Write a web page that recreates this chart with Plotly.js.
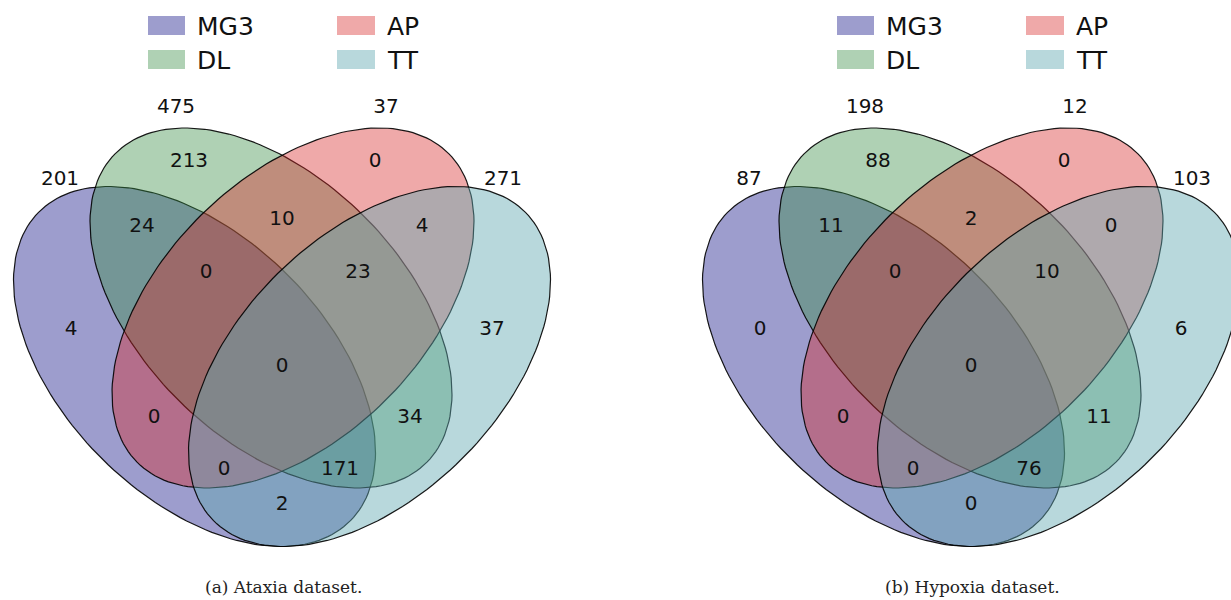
<!DOCTYPE html>
<html>
<head>
<meta charset="utf-8">
<script src="https://cdn.plot.ly/plotly-3.0.1.min.js"></script>
<style>html,body{margin:0;padding:0;background:#fff;}#chart{width:1231px;height:600px;}</style>
</head>
<body>
<div id="chart"></div>
<script>
// ---------------- data ----------------
const setNames = ['MG3', 'DL', 'AP', 'TT'];
const regionKeys = ['1000','0100','0010','0001','1100','0110','0011','1010','0101','1001','1110','0111','1011','1101','1111'];
const ataxiaCounts  = [4, 213, 0, 37, 24, 10, 4, 0, 34, 2, 0, 23, 0, 171, 0];
const hypoxiaCounts = [0, 88, 0, 6, 11, 2, 0, 0, 11, 0, 0, 10, 0, 76, 0];
const ataxiaTotals  = [201, 475, 37, 271];
const hypoxiaTotals = [87, 198, 12, 103];
const captions = ['(a) Ataxia dataset.', '(b) Hypoxia dataset.'];

// ---------------- style / layout (panel-local pixel units) ----------------
const fillColors = ['rgba(10,10,130,0.4)', 'rgba(55,140,68,0.4)', 'rgba(214,39,40,0.4)', 'rgba(97,168,177,0.45)'];
const ellipses = [ // cx, cy, semi-major, semi-minor, angle(deg, screen coords)
  [194.5, 366.5, 219.3, 130.7, 44.67],
  [271.0, 308.0, 219.3, 130.7, 44.67],
  [293.0, 308.0, 219.3, 130.7, 135.33],
  [369.5, 366.5, 219.3, 130.7, 135.33]
];
const regionPos = {
  '1000': [71, 330], '0100': [189, 162], '0010': [375, 162], '0001': [492, 330],
  '1100': [142, 227], '0110': [282, 220], '0011': [422, 227],
  '1010': [154, 418], '0101': [410, 418], '1001': [282, 505],
  '1110': [206, 273], '0111': [358, 273], '1011': [224, 470], '1101': [340, 470],
  '1111': [282, 367]
};
const totalPos = [[60, 180], [176, 108], [386, 108], [503, 180]];
const legendSw = [[148, 185, 16, 35], [148, 185, 50, 69], [337, 375, 16, 35], [337, 375, 50, 69]];
const legendTxt = [[195, 26], [195, 60], [385, 26], [385, 60]];
const captionPos = [283, 587];
const FONT = 'DejaVu Sans, Verdana, sans-serif';

function ellipsePath(e) {
  const [cx, cy, a, b, ang] = e;
  const th = ang * Math.PI / 180, xs = [], ys = [];
  for (let i = 0; i <= 360; i += 2) {
    const t = i * Math.PI / 180;
    xs.push(cx + a * Math.cos(t) * Math.cos(th) - b * Math.sin(t) * Math.sin(th));
    ys.push(cy + a * Math.cos(t) * Math.sin(th) + b * Math.sin(t) * Math.cos(th));
  }
  return [xs, ys];
}

const traces = [], shapes = [], annotations = [];
const panels = [{counts: ataxiaCounts, totals: ataxiaTotals, xa: 'x', ya: 'y'},
                {counts: hypoxiaCounts, totals: hypoxiaTotals, xa: 'x2', ya: 'y2'}];
panels.forEach((p, pi) => {
  ellipses.forEach((e, i) => {
    const [xs, ys] = ellipsePath(e);
    traces.push({type: 'scatter', mode: 'lines', x: xs, y: ys, xaxis: p.xa, yaxis: p.ya,
      fill: 'toself', fillcolor: fillColors[i], line: {color: 'rgba(0,0,0,0.9)', width: 1.2},
      hoverinfo: 'skip', showlegend: false});
  });
  traces.push({type: 'scatter', mode: 'text', xaxis: p.xa, yaxis: p.ya,
    x: regionKeys.map(k => regionPos[k][0]), y: regionKeys.map(k => regionPos[k][1]),
    text: p.counts.map(String), textposition: 'middle center',
    textfont: {family: FONT, size: 20, color: '#111'}, hoverinfo: 'skip', showlegend: false});
  traces.push({type: 'scatter', mode: 'text', xaxis: p.xa, yaxis: p.ya,
    x: totalPos.map(q => q[0]), y: totalPos.map(q => q[1]),
    text: p.totals.map(String), textposition: 'middle center',
    textfont: {family: FONT, size: 20, color: '#111'}, hoverinfo: 'skip', showlegend: false});
  setNames.forEach((n, i) => {
    const s = legendSw[i];
    shapes.push({type: 'rect', xref: p.xa, yref: p.ya, x0: s[0], x1: s[1], y0: s[2], y1: s[3],
      fillcolor: fillColors[i], line: {width: 0}});
    annotations.push({xref: p.xa, yref: p.ya, x: legendTxt[i][0], y: legendTxt[i][1], text: n,
      showarrow: false, xanchor: 'left', yanchor: 'middle', font: {family: FONT, size: 25, color: '#111'}});
  });
  annotations.push({xref: p.xa, yref: p.ya, x: captionPos[0], y: captionPos[1], text: captions[pi], showarrow: false,
    xanchor: 'center', yanchor: 'middle', font: {family: 'DejaVu Serif, serif', size: 17, color: '#222'}});
});

const axBase = {visible: false, showgrid: false, zeroline: false, fixedrange: true};
const layout = {
  width: 1231, height: 600, margin: {l: 0, r: 0, t: 0, b: 0},
  paper_bgcolor: '#fff', plot_bgcolor: '#fff', showlegend: false,
  xaxis: Object.assign({}, axBase, {domain: [0, 0.5], range: [0, 615.5], anchor: 'y'}),
  yaxis: Object.assign({}, axBase, {domain: [0, 1], range: [600, 0], anchor: 'x'}),
  xaxis2: Object.assign({}, axBase, {domain: [0.5, 1], range: [-73.5, 542], anchor: 'y2'}),
  yaxis2: Object.assign({}, axBase, {domain: [0, 1], range: [600, 0], anchor: 'x2'}),
  shapes: shapes, annotations: annotations
};
Plotly.newPlot('chart', traces, layout, {staticPlot: true, displayModeBar: false});
</script>
</body>
</html>
